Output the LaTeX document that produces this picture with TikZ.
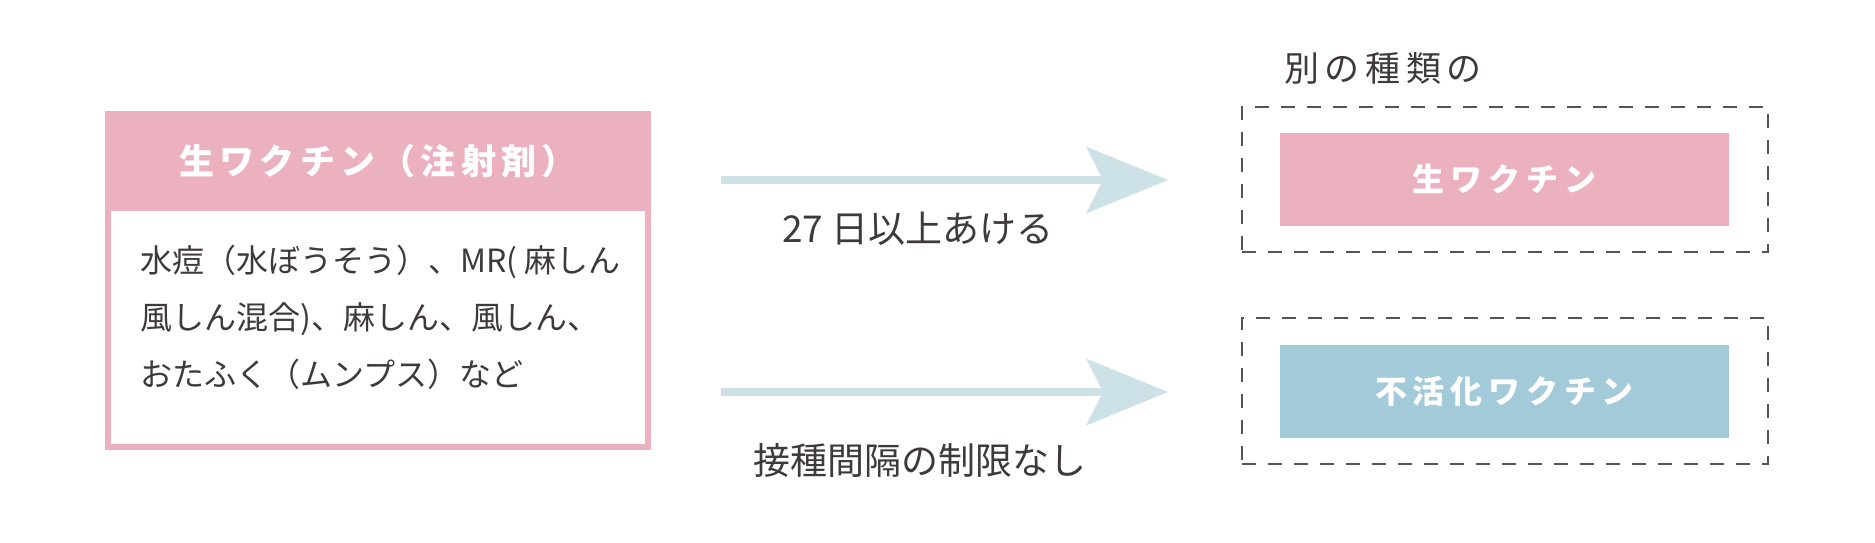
\documentclass[tikz,border=0pt]{standalone}
\usepackage{fontspec}
\usepackage{tikz}
\usetikzlibrary{arrows.meta}
\newfontfamily\jp{Noto Sans CJK JP}
\definecolor{livepink}{HTML}{EBB1BE}
\definecolor{inactblue}{HTML}{A3CAD8}
\definecolor{arrowblue}{HTML}{CDE2E7}
\definecolor{txtgray}{HTML}{3E3A39}
\definecolor{dashgray}{HTML}{555555}

\begin{document}
\begin{tikzpicture}[x=0.5pt, y=-0.5pt,
		every node/.style={inner sep=0pt, text=txtgray, font=\jp\fontsize{18.5}{22}\selectfont},
		dashbox/.style={draw=dashgray, line width=1pt, dash pattern=on 7pt off 6pt, minimum width=263pt, minimum height=72.5pt},
		vacbox/.style={minimum width=224.5pt, minimum height=46.5pt, text=white, font=\jp\bfseries\fontsize{16}{18}\selectfont\addfontfeature{LetterSpace=18}},
		gap/.style={draw=arrowblue, line width=4pt, -{Stealth[length=41pt, width=33.5pt, inset=8.5pt, line width=0pt]}}]
		\useasboundingbox (0,0) rectangle (1875,542);
		
		\draw (378,280.5) node[draw=livepink, line width=3pt, minimum width=270pt, minimum height=166.5pt] (liveframe) {};
		\draw (378,161) node[fill=livepink, minimum width=273pt, minimum height=49.5pt, text=white, font=\jp\bfseries\fontsize{17.5}{20}\selectfont\addfontfeature{LetterSpace=15}] (livehead) {生ワクチン（注射剤）};
		\draw (140,317) node[anchor=west, align=left, font=\jp\fontsize{16}{28.5}\selectfont] (livelist) {水痘（水ぼうそう）、MR( 麻しん\\風しん混合)、麻しん、風しん、\\おたふく（ムンプス）など};
		
		\coordinate (waitfrom) at (721,180);
		\coordinate (waitto) at (1168,180);
		\coordinate (freefrom) at (721,392);
		\coordinate (freeto) at (1168,392);
		\draw[gap] (waitfrom) -- (waitto);
		\draw[gap] (freefrom) -- (freeto);
		\draw (918,229) node (waitlbl) {27 日以上あける};
		\draw (920,460) node (freelbl) {接種間隔の制限なし};
		
		\draw (1284,68) node[anchor=west, font=\jp\fontsize{17.5}{20}\selectfont\addfontfeature{LetterSpace=16}] (othertype) {別の種類の};
		\draw (1505,179.5) node[dashbox] (livegrp) {};
		\draw (1504.5,179.5) node[vacbox, fill=livepink] (livevac) {生ワクチン};
		\draw (1505,391) node[dashbox, minimum height=73pt] (inactgrp) {};
		\draw (1504.5,391.5) node[vacbox, fill=inactblue] (inactvac) {不活化ワクチン};
	\end{tikzpicture}
\end{document}
